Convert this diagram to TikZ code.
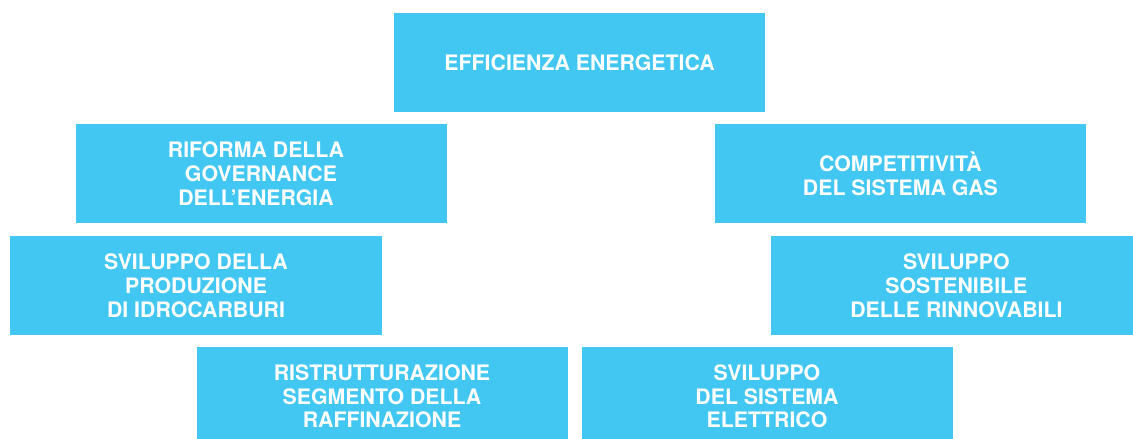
\documentclass[tikz,border=0pt]{standalone}
\usepackage{fontspec}
\setmainfont{TeX Gyre Heros}
\usepackage{tikz}
\usetikzlibrary{positioning}
\usepackage{xcolor}
\definecolor{azzurro}{RGB}{66,199,243}
\tikzset{
  tema/.style ={fill=azzurro, draw=none, minimum width=9.275cm,
                minimum height=2.475cm, inner sep=0pt, align=center,
                text=white, font=\bfseries\fontsize{15.15}{16.9}\selectfont},
}
\newcommand{\spost}{\hspace*{0.25cm}}

\begin{document}
\begin{tikzpicture}
  \clip (0,0) rectangle (28.325,-10.975);
  % ---- top row
  \node[tema] (eff) at (14.49,-1.56) {EFFICIENZA ENERGETICA};
  % ---- second row
  \node[tema] (gov) at ( 6.525,-4.34)
    {RIFORMA DELLA\spost\\GOVERNANCE\spost\\DELL’ENERGIA\spost};
  \node[tema] (gas) at (22.51,-4.34)  {COMPETITIVITÀ\\DEL SISTEMA GAS};
  % ---- third row
  \node[tema] (idr) at ( 4.9,-7.14)   {SVILUPPO DELLA\\PRODUZIONE\\DI IDROCARBURI};
  \node[tema] (rin) at (23.91,-7.14)  {SVILUPPO\\SOSTENIBILE\\DELLE RINNOVABILI};
  % ---- bottom row
  \node[tema] (raf) at ( 9.55,-9.91)  {RISTRUTTURAZIONE\\SEGMENTO DELLA\\RAFFINAZIONE};
  \node[tema] (ele) at (19.175,-9.91) {SVILUPPO\\DEL SISTEMA\\ELETTRICO};
\end{tikzpicture}
\end{document}
